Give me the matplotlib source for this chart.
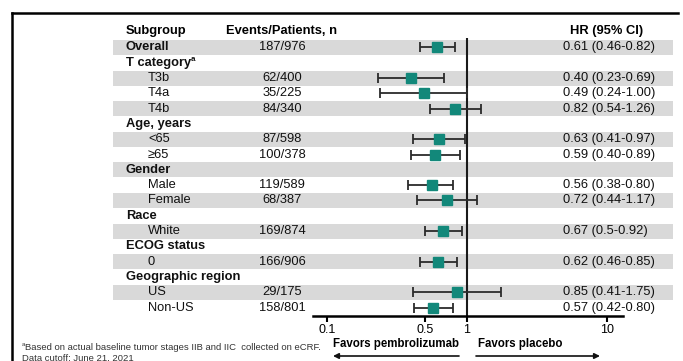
import matplotlib

matplotlib.use("Agg")
import matplotlib.pyplot as plt
from matplotlib.lines import Line2D
from matplotlib.transforms import blended_transform_factory

plt.rcParams["font.family"] = ["Liberation Sans", "DejaVu Sans"]

# rows of the table: (label, is_header)
labels = ["Overall", "T category", "T3b", "T4a", "T4b", "Age, years", "<65", "\u226565",
          "Gender", "Male", "Female", "Race", "White", "ECOG status", "0",
          "Geographic region", "US", "Non-US"]
is_group = [True, True, False, False, False, True, False, False,
            True, False, False, True, False, True, False,
            True, False, False]
events = ["187/976", "", "62/400", "35/225", "84/340", "", "87/598", "100/378",
          "", "119/589", "68/387", "", "169/874", "", "166/906", "", "29/175", "158/801"]
hr = [0.61, None, 0.40, 0.49, 0.82, None, 0.63, 0.59, None, 0.56, 0.72, None, 0.67, None, 0.62, None, 0.85, 0.57]
lo = [0.46, None, 0.23, 0.24, 0.54, None, 0.41, 0.40, None, 0.38, 0.44, None, 0.50, None, 0.46, None, 0.41, 0.42]
hi = [0.82, None, 0.69, 1.00, 1.26, None, 0.97, 0.89, None, 0.80, 1.17, None, 0.92, None, 0.85, None, 1.75, 0.80]
hr_text = ["0.61 (0.46-0.82)", "", "0.40 (0.23-0.69)", "0.49 (0.24-1.00)", "0.82 (0.54-1.26)", "",
           "0.63 (0.41-0.97)", "0.59 (0.40-0.89)", "", "0.56 (0.38-0.80)", "0.72 (0.44-1.17)", "",
           "0.67 (0.5-0.92)", "", "0.62 (0.46-0.85)", "", "0.85 (0.41-1.75)", "0.57 (0.42-0.80)"]
xticks = [0.1, 0.5, 1, 10]
xtick_labels = ["0.1", "0.5", "1", "10"]

W, H = 683, 361
fig = plt.figure(figsize=(W / 100, H / 100), dpi=100)
ax = fig.add_axes([313 / W, 1 - 316 / H, 310 / W, 278 / H])
ax.set_xscale("log")
ax.set_xlim(10 ** ((313 - 467) / 140), 10 ** ((623 - 467) / 140))
ax.set_ylim(17.55, -0.62)

teal = "#12887a"
fs = 9.3

for i in range(len(labels)):
    if i % 2 == 0:
        ax.axhspan(i - 0.49, i + 0.49, xmin=(113 - 313) / 310, xmax=(673 - 313) / 310,
                   color="#d9d9d9", lw=0, clip_on=False, zorder=0)
ax.axvline(1, color="#1a1a1a", lw=1.5, zorder=2)

for i in range(len(labels)):
    if hr[i] is None:
        continue
    ax.errorbar(hr[i], i, xerr=[[hr[i] - lo[i]], [hi[i] - hr[i]]], fmt="s", color=teal,
                ms=6.5, mec=teal, ecolor="#2b2b2b", elinewidth=1.3, capsize=3.5, capthick=1.3,
                zorder=3)

tr = blended_transform_factory(fig.transFigure, ax.transData)
for i, lab in enumerate(labels):
    x = 126 if is_group[i] else 148
    t = ax.text(x / W, i, lab, transform=tr, ha="left", va="center", fontsize=fs,
                fontweight="bold" if is_group[i] else "normal", color="#111111")
    if lab == "T category":
        ax.annotate("a", xy=(1, 0.75), xycoords=t, fontsize=5.8, fontweight="bold",
                    ha="left", va="center", color="#111111")
    if events[i]:
        ax.text(282 / W, i, events[i], transform=tr, ha="center", va="center", fontsize=fs, color="#111111")
    if hr_text[i]:
        ax.text(563 / W, i, hr_text[i], transform=tr, ha="left", va="center", fontsize=fs, color="#111111")

ax.text(126 / W, -1.05, "Subgroup", transform=tr, ha="left", va="center", fontsize=fs, fontweight="bold")
ax.text(282 / W, -1.05, "Events/Patients, n", transform=tr, ha="center", va="center", fontsize=fs, fontweight="bold")
ax.text(607 / W, -1.05, "HR (95% CI)", transform=tr, ha="center", va="center", fontsize=fs, fontweight="bold")

for side in ["top", "right", "left"]:
    ax.spines[side].set_visible(False)
ax.spines["bottom"].set_linewidth(1.8)
ax.set_yticks([])
ax.set_xticks(xticks)
ax.set_xticklabels(xtick_labels)
ax.minorticks_off()
ax.tick_params(axis="x", direction="out", length=4, width=1.5, pad=2, labelsize=9)
ax.patch.set_visible(False)

tr2 = blended_transform_factory(ax.transAxes, fig.transFigure)
ax.text((333 - 313) / 310, 1 - 344 / H, "Favors pembrolizumab", transform=tr2, ha="left", va="center",
        fontsize=8.3, fontweight="bold")
ax.text((478 - 313) / 310, 1 - 344 / H, "Favors placebo", transform=tr2, ha="left", va="center",
        fontsize=8.3, fontweight="bold")
arrow = dict(arrowstyle="-|>", color="#111111", lw=1.2, mutation_scale=8, shrinkA=0, shrinkB=0)
ax.annotate("", xy=((333 - 313) / 310, 1 - 356 / H), xytext=((459 - 313) / 310, 1 - 356 / H),
            xycoords=tr2, textcoords=tr2, arrowprops=arrow)
ax.annotate("", xy=((600 - 313) / 310, 1 - 356 / H), xytext=((476 - 313) / 310, 1 - 356 / H),
            xycoords=tr2, textcoords=tr2, arrowprops=arrow)

# footnote
fig.text(22 / W, 1 - 344 / H, "a", fontsize=4.3, ha="left", va="center", color="#333333")
fig.text(25 / W, 1 - 347 / H, "Based on actual baseline tumor stages IIB and IIC  collected on eCRF.",
         fontsize=6.8, ha="left", va="center", color="#333333")
fig.text(22 / W, 1 - 358 / H, "Data cutoff: June 21, 2021", fontsize=6.8, ha="left", va="center", color="#333333")

# slide frame
fig.add_artist(Line2D([12 / W, 12 / W], [0, 1 - 13 / H], transform=fig.transFigure, color="black", lw=1.8))
fig.add_artist(Line2D([12 / W, 678 / W], [1 - 13 / H, 1 - 13 / H], transform=fig.transFigure, color="black", lw=1.8))

fig.savefig("out.png", dpi=100)
